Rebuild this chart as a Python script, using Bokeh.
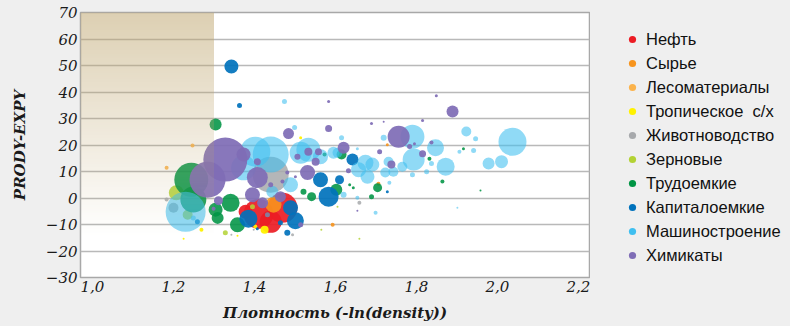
import numpy as np
from bokeh.plotting import figure
from bokeh.layouts import row
from bokeh.models import Range1d, FixedTicker, Legend, LegendItem
from bokeh.embed import file_html
from bokeh.resources import INLINE

# ---------------- data ----------------
x_ticks = [1.0, 1.2, 1.4, 1.6, 1.8, 2.0, 2.2]
x_tick_labels = ["1,0", "1,2", "1,4", "1,6", "1,8", "2,0", "2,2"]
y_ticks = [-30, -20, -10, 0, 10, 20, 30, 40, 50, 60, 70]
x_title = "Плотность (-ln(density))"
y_title = "PRODY-EXPY"
shade_x_end = 1.3          # shaded zone: density below 1.3
shade_y_fade = -15         # shading fades out at this level

categories = ["Нефть", "Сырье", "Лесоматериалы", "Тропическое  с/х", "Животноводство",
              "Зерновые", "Трудоемкие", "Капиталоемкие", "Машиностроение", "Химикаты"]

neft_x = [1.410, 1.469, 1.440, 1.378]
neft_y = [-6.0, -3.7, -9.0, -5.2]
neft_v = [30, 30, 22, 14]

syrie_x = [1.447, 1.706, 1.728, 1.593]
syrie_y = [-2.5, 5.4, 20.1, -10.1]
syrie_v = [16, 4, 3, 4]

les_x = [1.247, 1.183]
les_y = [19.8, 11.4]
les_v = [4, 4]

trop_x = [1.514, 1.425, 1.402, 1.269, 1.225, 1.358]
trop_y = [22.7, -12.0, -10.8, -12.0, -15.4, -14.2]
trop_v = [3, 8, 4, 4, 2, 2]

zhiv_x = [1.440, 1.200, 1.183, 1.494, 1.398, 1.343, 1.659]
zhiv_y = [8.8, -3.7, -0.6, -13.9, -12.0, -13.9, -1.8]
zhiv_v = [36, 10, 4, 3, 2, 2, 4]

zern_x = [1.207, 1.235, 1.328, 1.395, 1.605, 1.565, 1.659]
zern_y = [2.0, -6.3, -13.1, -3.3, -3.3, -12.0, -15.4]
zern_v = [15, 10, 5, 5, 2, 2, 2]

trud_x = [1.304, 1.244, 1.249, 1.304, 1.341, 1.358, 1.309, 1.573, 1.615, 1.602, 1.541,
          1.521, 1.704, 1.689, 1.832, 1.864, 1.916, 1.958, 1.635, 1.644]
trud_y = [27.7, 6.9, -0.6, -4.4, -1.8, -10.1, -7.5, 16.4, 16.4, 3.1, 0.5,
          2.4, 3.9, 0.5, 14.8, 6.2, 18.6, 2.8, 5.0, 3.9]
trud_v = [12, 34, 26, 14, 18, 15, 12, 4, 10, 12, 9,
          6, 9, 5, 4, 4, 3, 2, 3, 3]

kap_x = [1.343, 1.363, 1.385, 1.489, 1.501, 1.563, 1.610, 1.583, 1.642, 1.728,
         1.481, 1.407, 1.464, 1.259]
kap_y = [49.6, 34.9, -7.8, -3.7, -8.6, 6.9, 6.9, 0.5, 14.5, 2.4,
         -13.1, -11.6, -9.3, -9.0]
kap_v = [14, 5, 18, 15, 17, 15, 9, 20, 12, 3,
         6, 3, 5, 5]

mash_x = [1.230, 1.249, 1.432, 1.440, 1.402, 1.514, 1.533, 1.489, 1.444, 1.373,
          1.474, 1.499, 1.615, 1.654, 1.719, 1.923, 1.946, 2.037, 1.941, 1.906,
          1.978, 2.010, 1.872, 1.847, 1.837, 1.793, 1.825, 1.790, 1.790, 1.765,
          1.731, 1.723, 1.743, 1.674, 1.691, 1.679, 1.657, 1.605, 1.733, 1.654,
          1.699, 1.901, 1.563, 1.595, 1.620]
mash_y = [-5.2, -7.5, -6.3, 16.4, 17.5, 17.1, 18.2, 5.0, 2.4, 11.4,
          36.4, 26.6, 22.7, 18.6, 22.7, 25.1, 22.4, 21.2, 17.9, 17.5,
          13.0, 13.7, 11.8, 19.0, 13.0, 14.5, 9.9, 8.8, 23.1, 11.8,
          13.7, 9.6, 9.9, 13.3, 12.6, 8.0, 10.7, 17.1, 5.8, 0.1,
          -5.6, -3.7, 15.6, 17.1, 1.2]
mash_v = [40, 5, 5, 36, 30, 22, 24, 15, 12, 25,
          5, 5, 5, 3, 6, 10, 5, 28, 5, 4,
          12, 13, 18, 17, 5, 22, 5, 5, 24, 10,
          10, 10, 10, 16, 14, 14, 15, 10, 4, 4,
          4, 2, 15, 12, 6]

him_x = [1.328, 1.284, 1.373, 1.407, 1.407, 1.440, 1.469, 1.506, 1.531, 1.395,
         1.420, 1.464, 1.311, 1.299, 1.481, 1.501, 1.514, 1.849, 1.583, 1.889,
         1.689, 1.815, 1.719, 1.583, 1.756, 1.837, 1.815, 1.783, 1.795, 1.709,
         1.738, 1.620, 1.632, 1.533, 1.558, 1.551, 1.484, 1.654]
him_y = [14.5, 6.9, 16.4, 13.7, 7.7, 5.0, 6.2, 15.6, 9.6, 1.2,
         -1.8, 0.5, -1.0, -4.1, 9.6, 8.0, -10.1, 38.6, 36.4, 32.6,
         28.1, 29.2, 28.8, 26.2, 23.1, 20.9, 16.7, 19.4, 20.5, 17.5,
         12.6, 19.0, 10.3, 17.5, 17.5, 13.7, 24.3, -4.8]
him_v = [44, 36, 14, 7, 21, 5, 4, 6, 15, 15,
         11, 11, 9, 4, 4, 3, 5, 3, 3, 12,
         3, 3, 2, 7, 22, 4, 7, 5, 3, 5,
         8, 12, 5, 8, 7, 8, 11, 2]

series = [
    (neft_x, neft_y, neft_v), (syrie_x, syrie_y, syrie_v), (les_x, les_y, les_v),
    (trop_x, trop_y, trop_v), (zhiv_x, zhiv_y, zhiv_v), (zern_x, zern_y, zern_v),
    (trud_x, trud_y, trud_v), (kap_x, kap_y, kap_v), (mash_x, mash_y, mash_v),
    (him_x, him_y, him_v),
]

# ---------------- style ----------------
colors = ["#ec1c24", "#f7941d", "#fbb34c", "#fff200", "#a7a9ac",
          "#b3d234", "#009444", "#0072bc", "#3fbff0", "#7f6db6"]
alphas = [0.92, 0.9, 0.9, 0.95, 0.85, 0.85, 0.88, 0.92, 0.58, 0.93]
page_bg = "#efefef"

X0 = 0.9704
X1 = 2.2272
H = 325
W_MAIN = 590
W_LEG = 192

p = figure(width=W_MAIN, height=H,
           x_range=Range1d(X0, X1), y_range=Range1d(-30, 70),
           output_backend="svg", toolbar_location=None,
           min_border_left=80, min_border_right=1,
           min_border_top=12, min_border_bottom=48)

p.background_fill_color = "white"
p.border_fill_color = page_bg
p.outline_line_color = "#a8a8a8"
p.outline_line_width = 1.5

p.xgrid.visible = False
p.ygrid.ticker = FixedTicker(ticks=y_ticks)
p.ygrid.grid_line_color = "#b9b9b9"
p.ygrid.grid_line_width = 1.4

serif = "DejaVu Serif"

p.yaxis.ticker = FixedTicker(ticks=y_ticks)
p.yaxis.axis_line_color = None
p.yaxis.major_tick_line_color = None
p.yaxis.minor_tick_line_color = None
p.yaxis.major_tick_out = 0
p.yaxis.major_label_standoff = 3
p.yaxis.major_label_text_font = serif
p.yaxis.major_label_text_font_style = "italic"
p.yaxis.major_label_text_font_size = "15px"
p.yaxis.major_label_text_color = "#1a1a1a"
p.yaxis.axis_label = y_title
p.yaxis.axis_label_text_font = serif
p.yaxis.axis_label_text_font_style = "bold italic"
p.yaxis.axis_label_text_font_size = "15px"
p.yaxis.axis_label_text_color = "#1a1a1a"
p.yaxis.axis_label_standoff = 14

p.xaxis.ticker = FixedTicker(ticks=x_ticks)
p.xaxis.major_label_overrides = dict(zip(x_ticks, x_tick_labels))
p.xaxis.axis_line_color = None
p.xaxis.major_tick_line_color = None
p.xaxis.minor_tick_line_color = None
p.xaxis.major_tick_out = 0
p.xaxis.major_label_standoff = 3
p.xaxis.major_label_text_font = serif
p.xaxis.major_label_text_font_style = "italic"
p.xaxis.major_label_text_font_size = "15px"
p.xaxis.major_label_text_color = "#1a1a1a"
p.xaxis.axis_label = x_title
p.xaxis.axis_label_text_font = serif
p.xaxis.axis_label_text_font_style = "bold italic"
p.xaxis.axis_label_text_font_size = "15px"
p.xaxis.axis_label_text_color = "#1a1a1a"
p.xaxis.axis_label_standoff = 9

for (xs, ys, vs), c, a in zip(series, colors, alphas):
    p.scatter(x=xs, y=ys, size=vs, fill_color=c, fill_alpha=a, line_color=None)

# shaded zone overlay (vertical gradient, drawn over the bubbles)
N = 256
img = np.zeros((N, 1, 4), dtype=np.uint8)
img[:, 0, 0] = 190
img[:, 0, 1] = 165
img[:, 0, 2] = 110
img[:, 0, 3] = (0.53 * (np.arange(N) + 0.5) / N * 255).astype(np.uint8)
img32 = img.view(dtype=np.uint32).reshape((N, 1))
p.image_rgba(image=[img32], x=X0, y=shade_y_fade, dw=shade_x_end - X0, dh=70 - shade_y_fade)

# ---------------- legend panel ----------------
lg = figure(width=W_LEG, height=H, output_backend="svg", toolbar_location=None,
            x_axis_location=None, y_axis_location=None,
            min_border=0, x_range=Range1d(0, 1), y_range=Range1d(0, 1))
lg.background_fill_color = page_bg
lg.border_fill_color = page_bg
lg.outline_line_color = None
lg.xgrid.visible = False
lg.ygrid.visible = False

nan = float("nan")
items = []
for cat, c in zip(categories, colors):
    # legend proxy: a single undrawn (NaN) point carrying the category colour
    r = lg.scatter(x=[nan], y=[nan], size=7, fill_color=c, line_color=None)
    items.append(LegendItem(label=cat, renderers=[r]))

legend = Legend(items=items, location=(33, 12))
legend.padding = 0
legend.margin = 0
legend.border_line_color = None
legend.background_fill_alpha = 0
legend.glyph_width = 18
legend.glyph_height = 18
legend.label_height = 20
legend.spacing = 4
legend.label_standoff = 5
legend.label_text_font = "Liberation Sans"
legend.label_text_font_size = "16.5px"
legend.label_text_color = "#111111"
lg.add_layout(legend, "center")

layout = row(p, lg, spacing=0)

html = file_html(layout, INLINE)
html = html.replace("<head>", "<head><style>html,body{background:#efefef;overflow:hidden;}</style>", 1)
open("out.html", "w").write(html)
